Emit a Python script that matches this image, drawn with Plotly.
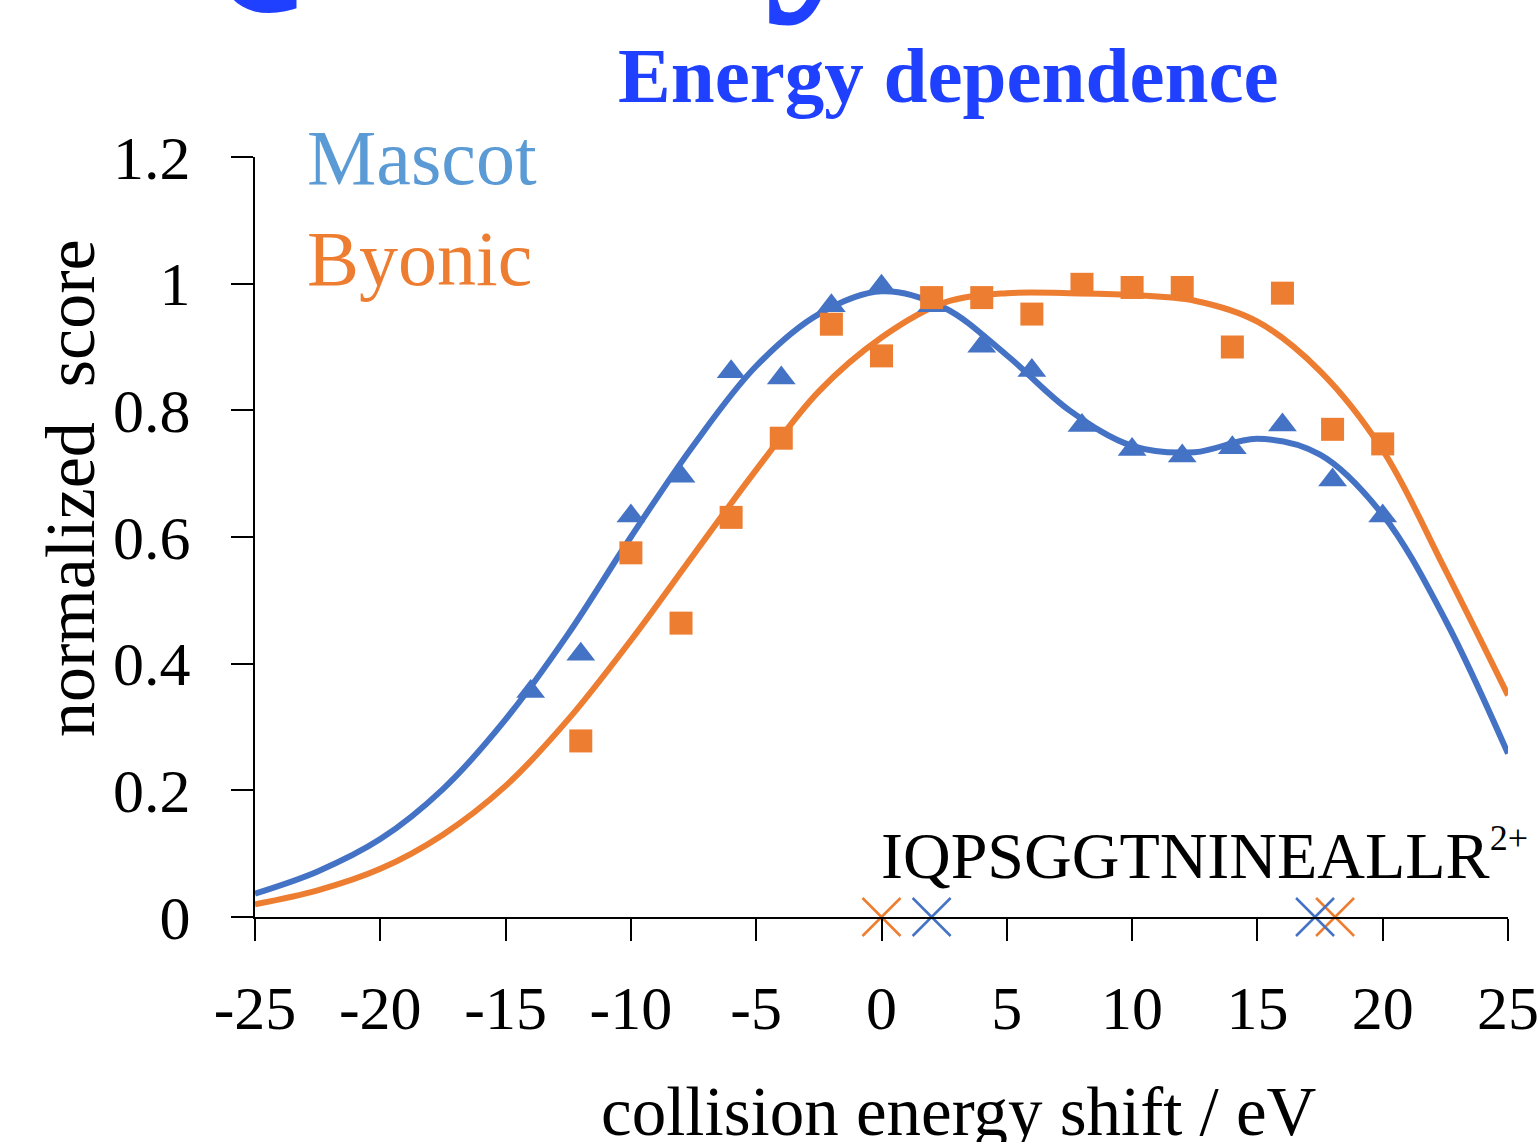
import plotly.graph_objects as go

# ---------------- data ----------------
mascot_energy = [-14, -12, -10, -8, -6, -4, -2, 0, 2, 4, 6, 8, 10, 12, 14, 16, 18, 20]
mascot_score = [0.356, 0.415, 0.633, 0.696, 0.861, 0.851, 0.965, 0.996, 0.965, 0.901,
                0.863, 0.776, 0.738, 0.728, 0.741, 0.777, 0.690, 0.633]

byonic_energy = [-12, -10, -8, -6, -4, -2, 0, 2, 4, 6, 8, 10, 12, 14, 16, 18, 20]
byonic_score = [0.278, 0.575, 0.464, 0.631, 0.756, 0.936, 0.886, 0.978, 0.978, 0.952,
                0.999, 0.994, 0.994, 0.900, 0.985, 0.770, 0.747]

fit_energy = [-25, -22.5, -20, -17.5, -15, -12.5, -10, -7.5, -5, -2.5, 0,
              2.5, 5, 7.5, 10, 12.5, 15, 17.5, 20, 22.5, 25]
mascot_fit = [0.037, 0.072, 0.123, 0.202, 0.312, 0.447, 0.600, 0.745, 0.870, 0.952, 0.988,
              0.962, 0.887, 0.800, 0.744, 0.734, 0.755, 0.730, 0.635, 0.469, 0.258]
byonic_fit = [0.020, 0.042, 0.076, 0.130, 0.207, 0.312, 0.437, 0.572, 0.706, 0.830, 0.915,
              0.970, 0.985, 0.985, 0.982, 0.973, 0.940, 0.862, 0.737, 0.548, 0.350]

mascot_optima = [2.0, 17.3]
byonic_optima = [0.0, 18.1]
optima_level = [0, 0]

x_ticks = [-25, -20, -15, -10, -5, 0, 5, 10, 15, 20, 25]
x_tick_text = ["-25", "-20", "-15", "-10", "-5", "0", "5", "10", "15", "20", "25"]
y_ticks = [0, 0.2, 0.4, 0.6, 0.8, 1.0, 1.2]
y_tick_text = ["0", "0.2", "0.4", "0.6", "0.8", "1", "1.2"]

BLUE = "#4472C4"
ORANGE = "#ED7D31"
LEGEND_BLUE = "#5B9BD5"
TITLE_BLUE = "#1F40FF"
FONT = "Liberation Serif"

# ---------------- figure ----------------
W, H = 1539, 1142
L, R, T, B = 255, 31, 157, 225
PW, PH = W - L - R, H - T - B


def px(xp):
    return (xp - L) / PW


def py(yp):
    return (H - B - yp) / PH


fig = go.Figure()

fig.add_trace(go.Scatter(x=fit_energy, y=mascot_fit, mode="lines",
                         line=dict(color=BLUE, width=6, shape="spline", smoothing=1.0),
                         hoverinfo="skip"))
fig.add_trace(go.Scatter(x=fit_energy, y=byonic_fit, mode="lines",
                         line=dict(color=ORANGE, width=6, shape="spline", smoothing=1.0),
                         hoverinfo="skip"))
fig.add_trace(go.Scatter(x=mascot_energy, y=mascot_score, mode="markers", name="Mascot",
                         marker=dict(symbol="triangle-up", size=25, color=BLUE)))
fig.add_trace(go.Scatter(x=byonic_energy, y=byonic_score, mode="markers", name="Byonic",
                         marker=dict(symbol="square", size=23, color=ORANGE)))
fig.add_trace(go.Scatter(x=byonic_optima, y=optima_level, mode="markers", cliponaxis=False,
                         marker=dict(symbol="x-thin", size=38,
                                     line=dict(color=ORANGE, width=2.5))))
fig.add_trace(go.Scatter(x=mascot_optima, y=optima_level, mode="markers", cliponaxis=False,
                         marker=dict(symbol="x-thin", size=38,
                                     line=dict(color=BLUE, width=2.5))))

annotations = [
    dict(text="<b>Quality</b>", x=px(502), y=py(-104), xref="paper", yref="paper",
         xanchor="center", yanchor="middle", showarrow=False,
         font=dict(family=FONT, size=235, color=TITLE_BLUE)),
    dict(text="<b>Energy dependence</b>", x=px(948), y=py(75), xref="paper", yref="paper",
         xanchor="center", yanchor="middle", showarrow=False,
         font=dict(family=FONT, size=79, color=TITLE_BLUE)),
    dict(text="Mascot", x=px(305), y=py(158), xref="paper", yref="paper",
         xanchor="left", yanchor="middle", showarrow=False,
         font=dict(family=FONT, size=78, color=LEGEND_BLUE)),
    dict(text="Byonic", x=px(305), y=py(258), xref="paper", yref="paper",
         xanchor="left", yanchor="middle", showarrow=False,
         font=dict(family=FONT, size=78, color=ORANGE)),
    dict(text="IQPSGGTNINEALLR<sup><span style='font-size:36px'>2+</span></sup>",
         x=px(879), y=py(855), xref="paper", yref="paper",
         xanchor="left", yanchor="middle", showarrow=False,
         font=dict(family=FONT, size=66, color="black")),
    dict(text="normalized  score", x=px(70), y=py(488), xref="paper", yref="paper",
         xanchor="center", yanchor="middle", showarrow=False, textangle=-90,
         font=dict(family=FONT, size=70, color="black")),
    dict(text="collision energy shift / eV", x=px(959), y=py(1112), xref="paper", yref="paper",
         xanchor="center", yanchor="middle", showarrow=False,
         font=dict(family=FONT, size=69, color="black")),
]

fig.update_layout(
    width=W, height=H,
    margin=dict(l=L, r=R, t=T, b=B, pad=0, autoexpand=False),
    paper_bgcolor="white", plot_bgcolor="white",
    showlegend=False,
    annotations=annotations,
    xaxis=dict(range=[-25, 25], tickvals=x_ticks, ticktext=x_tick_text, ticks="outside",
               ticklen=22, tickwidth=2, automargin=False,
               tickcolor="black", showline=True, linecolor="black", linewidth=2,
               showgrid=False, zeroline=False, ticklabelstandoff=14,
               tickfont=dict(family=FONT, size=62, color="black")),
    yaxis=dict(range=[0, 1.2], tickvals=y_ticks, ticktext=y_tick_text, ticks="outside",
               ticklen=22, tickwidth=2, tickcolor="black", showline=True, linecolor="black",
               linewidth=2, showgrid=False, zeroline=False, ticklabelstandoff=28,
               automargin=False,
               tickfont=dict(family=FONT, size=62, color="black")),
)

fig.write_html("out.html")
